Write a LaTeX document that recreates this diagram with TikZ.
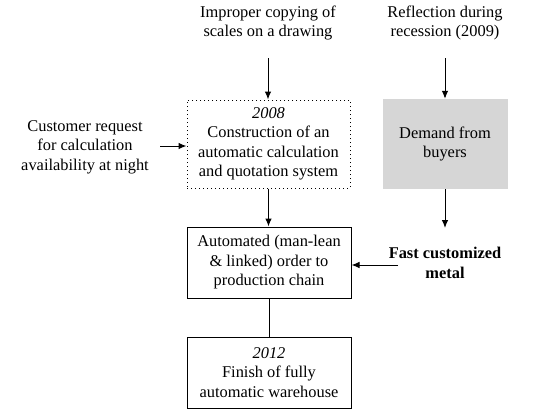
\documentclass[tikz,border=0pt]{standalone}
\usepackage{fontspec}
\setmainfont{Liberation Serif}
\usetikzlibrary{arrows.meta}
\begin{document}
\begin{tikzpicture}[x=1pt,y=-1pt,
  txt/.style={align=center,font=\fontsize{16.4}{19.5}\selectfont,inner sep=0pt},
  boxA/.style={txt,draw,line width=1pt,minimum width=164pt,minimum height=71pt},
  dotbox/.style={txt,draw,line width=1pt,dash pattern=on 1pt off 3pt,minimum width=163pt,minimum height=88pt},
  graybox/.style={txt,fill=black!16,minimum width=125pt,minimum height=90pt},
  arr/.style={line width=1pt,-{Latex[length=8pt,width=6.5pt]}},
  ln/.style={line width=1pt}]
\useasboundingbox (0,0) rectangle (550,416);
\node[txt] (top1) at (268,23) {Improper copying of\\scales on a drawing};
\node[txt] (top2) at (445,23) {Reflection during\\recession (2009)};
\node[txt] (left) at (85,147) {Customer request\\for calculation\\availability at night};
\node[dotbox] (dot) at (268.5,144) {\textit{2008}\\Construction of an\\automatic calculation\\and quotation system};
\node[graybox] (gray) at (445,144) {Demand from\\buyers};
\node[boxA] (b1) at (269,262.5) {Automated (man-lean\\\& linked) order to\\production chain};
\node[boxA] (b2) at (269,372.5) {\textit{2012}\\Finish of fully\\automatic warehouse};
\node[txt,font=\fontsize{16.4}{19.5}\selectfont\bfseries] (fast) at (445,263) {Fast customized\\metal};
\coordinate (s1) at (268,58);
\coordinate (s2) at (445,58);
\coordinate (s3) at (160,146);
\coordinate (e4) at (445,228);
\coordinate (s5) at (398,265);
\draw[arr] (s1) -- (s1 |- dot.north);
\draw[arr] (s2) -- (gray.north);
\draw[arr] (s3) -- (s3 -| dot.west);
\draw[arr] (dot.south) -- (dot.south |- b1.north);
\draw[arr] (gray.south) -- (e4);
\draw[arr] (s5) -- (s5 -| b1.east);
\draw[ln] (b1.south) -- (b2.north);
\end{tikzpicture}
\end{document}
